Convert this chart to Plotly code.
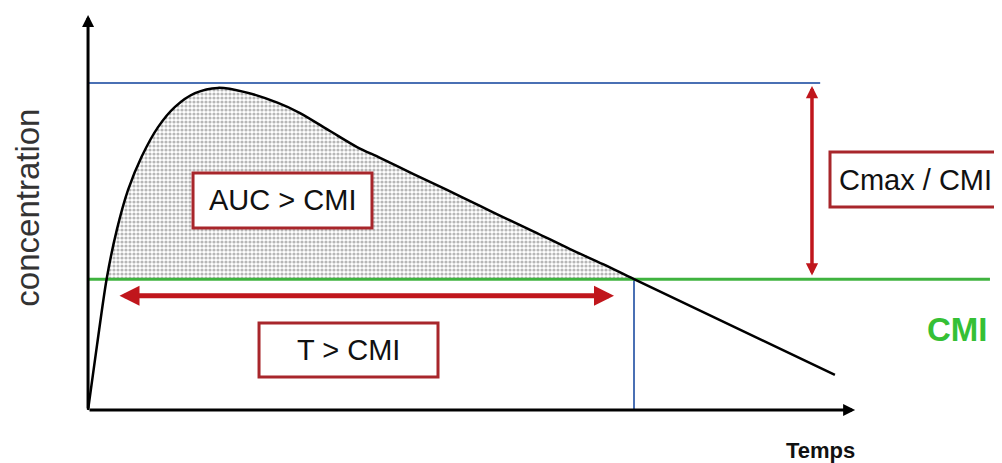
import plotly.graph_objects as go

# ---- data (time in arbitrary units, concentration in arbitrary units) ----
time = [0, 0.165, 0.34, 0.526, 0.733, 0.983, 1.282, 1.593, 1.96, 2.381, 2.875,
        3.48, 3.883, 4.432, 4.927, 5.348, 5.952, 6.575, 7.179, 7.601, 8.223,
        8.828, 9.432, 10.0, 13.68]
conc = [0, 1.99, 4.0, 5.5, 6.73, 7.75, 8.65, 9.27, 9.69, 9.85, 9.72,
        9.39, 9.08, 8.53, 8.04, 7.71, 7.22, 6.73, 6.24, 5.90, 5.41,
        4.92, 4.46, 4.0, 1.07]
CMI = 4.0
CMAX = 10.0
T_END = 10.0
labels = ["AUC > CMI", "T > CMI", "Cmax / CMI", "CMI", "Temps", "concentration"]

RED = "#c0161c"
BOX = "#a8262b"
BLUE = "#4a70b4"
GREEN = "#3fb33f"

fig = go.Figure()

# AUC area above CMI: baseline at CMI, then curve filled down to it
fill_t = [t for t, c in zip(time, conc) if c >= CMI and t <= T_END]
fill_c = [c for t, c in zip(time, conc) if c >= CMI and t <= T_END]
fig.add_trace(go.Scatter(x=[fill_t[0], fill_t[-1]], y=[CMI, CMI], mode="lines",
                         line=dict(width=0, color="rgba(0,0,0,0)"),
                         hoverinfo="skip", showlegend=False))
fig.add_trace(go.Scatter(x=fill_t, y=fill_c, mode="lines", fill="tonexty",
                         line=dict(width=0, color="rgba(0,0,0,0)", shape="spline", smoothing=0.8),
                         fillcolor="white",
                         fillpattern=dict(shape=".", fgcolor="#6f6f6f", bgcolor="white",
                                          size=4, solidity=0.5),
                         hoverinfo="skip", showlegend=False))

# Cmax line
fig.add_trace(go.Scatter(x=[0, 13.41], y=[CMAX, CMAX], mode="lines",
                         line=dict(color=BLUE, width=2), showlegend=False))
# vertical line at T end
fig.add_trace(go.Scatter(x=[T_END, T_END], y=[0, CMI], mode="lines",
                         line=dict(color=BLUE, width=2), showlegend=False))
# CMI line
fig.add_trace(go.Scatter(x=[0, 16.52], y=[CMI, CMI], mode="lines",
                         line=dict(color=GREEN, width=3), showlegend=False))
# concentration curve
fig.add_trace(go.Scatter(x=time, y=conc, mode="lines",
                         line=dict(color="black", width=2.5, shape="spline", smoothing=0.8),
                         showlegend=False))

# boxes
boxes = [(1.923, 5.566, 5.201, 7.248), (3.132, 1.009, 6.410, 2.661), (13.59, 6.208, 16.95, 7.890)]
for x0, y0, x1, y1 in boxes:
    fig.add_shape(type="rect", xref="x", yref="y", x0=x0, y0=y0, x1=x1, y1=y1,
                  line=dict(color=BOX, width=3), fillcolor="white", layer="above")

font = "Liberation Sans, Arial, sans-serif"
fig.add_annotation(x=3.562, y=6.407, text=labels[0], showarrow=False,
                   font=dict(family=font, size=29, color="#111"))
fig.add_annotation(x=4.771, y=1.835, text=labels[1], showarrow=False,
                   font=dict(family=font, size=29, color="#111"))
fig.add_annotation(x=13.72, y=7.03, text=labels[2], showarrow=False, xanchor="left",
                   font=dict(family=font, size=29, color="#111"))
fig.add_annotation(x=15.92, y=2.45, text="<b>" + labels[3] + "</b>", showarrow=False,
                   font=dict(family=font, size=33, color="#35c035"))
fig.add_annotation(x=13.41, y=-1.25, text="<b>" + labels[4] + "</b>", showarrow=False,
                   font=dict(family=font, size=22, color="#111"))
fig.add_annotation(x=-1.11, y=6.2, text=labels[5], showarrow=False, textangle=-90,
                   font=dict(family=font, size=33, color="#333"))

# axes arrows
fig.add_annotation(x=0, y=12.08, ax=0, ay=0, xref="x", yref="y", axref="x", ayref="y",
                   showarrow=True, arrowhead=2, arrowsize=0.8, arrowwidth=3,
                   arrowcolor="black", text="", standoff=0)
fig.add_annotation(x=14.05, y=0, ax=0, ay=0, xref="x", yref="y", axref="x", ayref="y",
                   showarrow=True, arrowhead=2, arrowsize=0.8, arrowwidth=3,
                   arrowcolor="black", text="", standoff=0)

# T > CMI double arrow
fig.add_annotation(x=9.634, y=3.49, ax=0.549, ay=3.49, xref="x", yref="y", axref="x", ayref="y",
                   showarrow=True, arrowhead=2, arrowsize=0.8, arrowwidth=5,
                   arrowside="end+start", arrowcolor=RED, text="", standoff=0, startstandoff=0)
# Cmax / CMI double arrow
fig.add_annotation(x=13.26, y=9.91, ax=13.26, ay=4.07, xref="x", yref="y", axref="x", ayref="y",
                   showarrow=True, arrowhead=2, arrowsize=0.7, arrowwidth=3.5,
                   arrowside="end+start", arrowcolor=RED, text="", standoff=0, startstandoff=0)

# ranges shifted to compensate for the 8px page body margin
fig.update_xaxes(range=[-1.466, 16.887], visible=False, showgrid=False, zeroline=False)
fig.update_yaxes(range=[-1.866, 12.293], visible=False, showgrid=False, zeroline=False)
fig.update_layout(width=1002, height=463, margin=dict(l=0, r=0, t=0, b=0),
                  plot_bgcolor="white", paper_bgcolor="white", showlegend=False)

fig.write_html("out.html")
